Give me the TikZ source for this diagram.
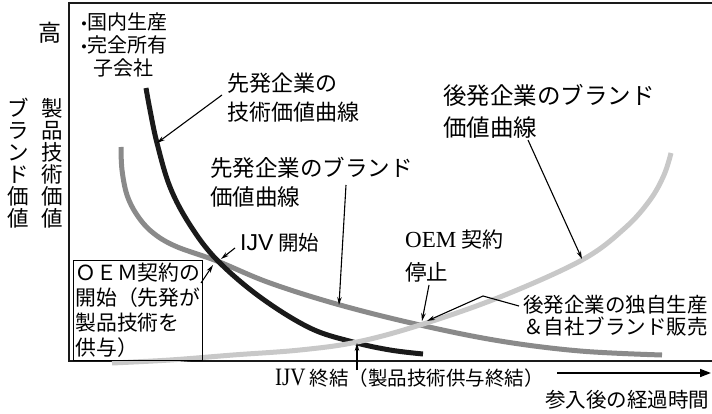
\documentclass[tikz,border=0pt]{standalone}
\usepackage{fontspec}
\usepackage{graphicx}
\setmainfont{Liberation Serif}
\newfontfamily\jp{Noto Sans CJK JP}
\newfontfamily\lsans{Liberation Sans}
\usetikzlibrary{arrows.meta}
\definecolor{cblack}{HTML}{1A1A1A}
\definecolor{cdgray}{HTML}{8A8A8A}
\definecolor{clgray}{HTML}{C8C8C8}
\newcommand{\latn}[2]{{\rmfamily\fontsize{#1}{#1}\selectfont #2}}
\begin{document}
\begin{tikzpicture}[x=1pt,y=-1pt,
  lbl/.style={inner sep=0pt, anchor=west, font=\jp\fontsize{#1}{#1}\selectfont},
  lbl/.default=20,
  arr/.style={line width=1.1pt, -{Stealth[length=8pt,width=4.5pt]}},
  axisline/.style={line width=2pt, cblack},
  crv/.style={line width=5pt}
]
\useasboundingbox (0,0) rectangle (712,414);

% frame / axes
\draw[axisline] (69,3) -- (712,3);
\draw[axisline] (69,2) -- (69,361) -- (712,361);

% curves
\draw[crv, cdgray] plot[smooth, tension=0.6] coordinates {(121,147) (122,170) (127,195) (137,215) (152,232) (175,246) (217,261) (270,283) (340,305) (420,325) (500,341) (580,351) (662,355)};
\draw[crv, cblack] plot[smooth, tension=0.6] coordinates {(146,88) (150,110) (157,143) (170,187) (190,225) (217,260) (260,297) (310,328) (353,342) (390,350) (423,354)};
\draw[crv, clgray] plot[smooth, tension=0.6] coordinates {(112,363) (170,360) (233,355) (300,350) (357,342) (420,325) (500,297) (582,260) (625,228) (650,200) (664,175) (671,153)};

% left labels
\node[lbl=23, anchor=center] (high) at (50,33) {高};
\node[inner sep=0pt, align=center, font=\jp\fontsize{21.5}{22}\selectfont] (ytech) at (52,163) {製\\品\\技\\術\\価\\値};
\node[inner sep=0pt, align=center, font=\jp\fontsize{21.5}{22}\selectfont] (ybrand) at (18,163) {ブ\\ラ\\ン\\ド\\価\\値};

\node[lbl=20] (b1) at (81,22) {\latn{17}{•}国内生産};
\node[lbl=20] (b2) at (81,45) {\latn{17}{•}完全所有};
\node[lbl=20] (b3) at (93,68) {子会社};

% curve labels
\node[lbl=22] (t1a) at (227,83) {先発企業の};
\node[lbl=22] (t1b) at (227,112) {技術価値曲線};
\node[lbl=22.5] (t2a) at (210,168) {先発企業のブランド};
\node[lbl=22.5] (t2b) at (210,197) {価値曲線};
\node[lbl=23.5] (t3a) at (443,95) {後発企業のブランド};
\node[lbl=23.5] (t3b) at (443,128) {価値曲線};

\node[lbl=20.5] (ijvs) at (240,243) {{\lsans\fontsize{23}{23}\selectfont IJV} 開始};
\node[lbl=21] (oema) at (405,240) {\latn{23}{OEM} 契約};
\node[lbl=21.5] (oemb) at (405,272) {停止};
\node[lbl=20.5] (owna) at (523,305) {後発企業の独自生産};
\node[lbl=20.5] (ownb) at (523,327) {＆自社ブランド販売};

\node[draw, line width=1pt, anchor=north west, minimum width=129pt, minimum height=100pt,
  inner xsep=2pt, inner ysep=0pt, text width=125pt, align=left,
  font=\jp\fontsize{20.8}{25}\selectfont] (oembox) at (73,260)
  {ＯＥＭ契約の\\開始（先発が\\製品技術を\\供与）};

\node[lbl=19.5] (ijve) at (275,378) {\latn{25}{\scalebox{0.84}[1]{IJV}} 終結（製品技術供与終結）};
\node[lbl=20.5] (time) at (545,400) {参入後の経過時間};

% arrow endpoints
\coordinate (s1) at (222,95);   \coordinate (e1) at (157,143);
\coordinate (s2) at (346,185);  \coordinate (e2) at (339,305);
\coordinate (s3) at (528,140);  \coordinate (e3) at (582,259);
\coordinate (s4) at (235,248);  \coordinate (e4) at (221,259);
\coordinate (s5) at (201,283);  \coordinate (e5) at (213,265);
\coordinate (s6) at (429,285);  \coordinate (e6) at (422,321);
\coordinate (s7) at (519,306);  \coordinate (k7) at (483,296); \coordinate (e7) at (427,321);
\coordinate (s8) at (357,370);  \coordinate (e8) at (357,343);
\coordinate (xs) at (557,373);  \coordinate (xe) at (711,373);

\draw[arr] (s1) -- (e1);
\draw[arr] (s2) -- (e2);
\draw[arr] (s3) -- (e3);
\draw[arr] (s4) -- (e4);
\draw[arr] (s5) -- (e5);
\draw[arr] (s6) -- (e6);
\draw[arr] (s7) -- (k7) -- (e7);
\draw[arr] (s8) -- (e8);
\draw[line width=1.6pt, -{Triangle[length=11pt,width=8pt]}] (xs) -- (xe);
\end{tikzpicture}
\end{document}
